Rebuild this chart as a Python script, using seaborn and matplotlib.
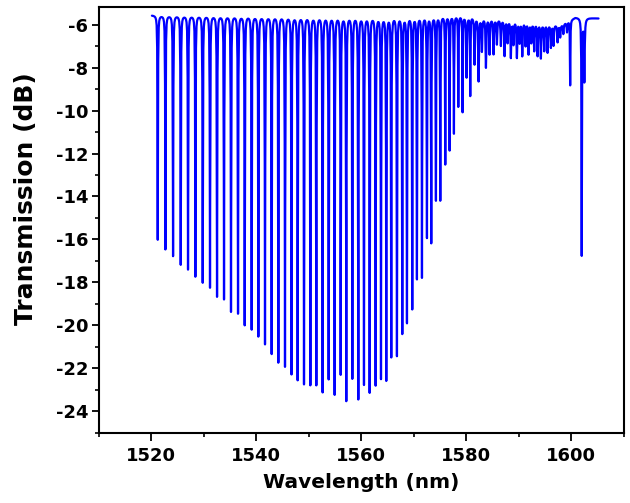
import numpy as np
import pandas as pd
import matplotlib
matplotlib.use("Agg")
import matplotlib.pyplot as plt
from matplotlib.ticker import MultipleLocator
import seaborn as sns

# Resonance dip positions (nm) and dip minima (dB)
dip_wl = [1521.21, 1522.67, 1524.13, 1525.59, 1526.98, 1528.38, 1529.78, 1531.17,
          1532.51, 1533.84, 1535.17, 1536.51, 1537.78, 1539.11, 1540.38, 1541.65,
          1542.92, 1544.19, 1545.46, 1546.70, 1547.87, 1549.08, 1550.29, 1551.43,
          1552.63, 1553.78, 1554.92, 1556.07, 1557.14, 1558.29, 1559.43, 1560.51,
          1561.59, 1562.73, 1563.75, 1564.76, 1565.71, 1566.79, 1567.81, 1568.70,
          1569.71, 1570.60, 1571.56, 1572.51, 1573.33, 1574.22, 1575.05, 1576.00,
          1576.83, 1577.65, 1578.48, 1579.30, 1580.06, 1580.76, 1581.58, 1582.35,
          1582.98, 1583.75, 1584.44, 1585.20, 1585.84, 1586.60, 1587.30, 1587.87,
          1588.50, 1589.00, 1589.65, 1590.16, 1590.67, 1591.30, 1591.87, 1592.38,
          1592.95, 1593.59, 1594.22, 1594.86, 1595.49, 1596.13, 1596.63, 1597.40,
          1597.90, 1598.50, 1599.20, 1599.80, 1602.00, 1602.50]
dip_min_db = [-16.00, -16.44, -16.75, -17.15, -17.37, -17.70, -17.98, -18.21,
              -18.63, -18.75, -19.33, -19.41, -19.95, -20.15, -20.47, -20.83,
              -21.28, -21.68, -21.87, -22.22, -22.49, -22.68, -22.72, -22.72,
              -23.05, -22.44, -23.16, -22.22, -23.45, -22.41, -23.37, -22.69,
              -23.06, -22.72, -22.41, -22.49, -21.40, -21.35, -20.31, -19.81,
              -19.17, -17.77, -17.71, -15.85, -16.10, -14.12, -14.13, -12.45,
              -11.80, -11.02, -9.77, -10.01, -8.41, -9.24, -7.79, -8.57,
              -7.17, -7.94, -7.32, -7.32, -6.86, -6.93, -7.40, -6.78,
              -7.48, -6.86, -7.48, -6.78, -7.40, -6.93, -7.32, -6.78,
              -7.17, -7.40, -7.51, -7.17, -7.25, -7.02, -6.93, -6.78,
              -6.55, -6.40, -6.32, -8.80, -16.69, -8.60]
# Upper envelope (between notches)
env_wl = [1520.1, 1580.0, 1586.0, 1592.0, 1598.0, 1600.8, 1605.2]
env_db = [-5.55, -5.55, -5.70, -5.85, -6.00, -5.65, -5.70]
wl_start, wl_end = 1520.1, 1605.2

x_label = "Wavelength (nm)"
y_label = "Transmission (dB)"
x_ticks = [1520, 1540, 1560, 1580, 1600]
y_ticks = [-6, -8, -10, -12, -14, -16, -18, -20, -22, -24]

# Build the trace on a measurement-like grid: Lorentzian notches at the read positions
wl = np.union1d(np.arange(wl_start, wl_end, 0.1), np.array(dip_wl))
base = np.interp(wl, env_wl, env_db)
db = base.copy()
for c, m in zip(dip_wl, dip_min_db):
    depth = np.interp(c, env_wl, env_db) - m
    g = 0.045 if depth > 3 else 0.08
    db -= depth / (1.0 + ((wl - c) / g) ** 2)
df = pd.DataFrame({"wl": wl, "db": db})

sns.set_style("white")
plt.rcParams["font.family"] = ["DejaVu Sans"]
plt.rcParams["font.weight"] = "bold"
plt.rcParams["axes.unicode_minus"] = False
for k in ["text.color", "axes.labelcolor", "xtick.color", "ytick.color"]:
    plt.rcParams[k] = "black"

fig = plt.figure(figsize=(6.3, 5.03), dpi=100)
ax = fig.add_axes([0.157, 0.140, 0.833, 0.847])
sns.lineplot(data=df, x="wl", y="db", ax=ax, color="#0000ff", linewidth=1.6,
             estimator=None, sort=False)

ax.set_xlim(1510, 1610)
ax.set_ylim(-25, -5.15)
ax.set_xticks(x_ticks)
ax.set_yticks(y_ticks)
ax.xaxis.set_minor_locator(MultipleLocator(10))
ax.yaxis.set_minor_locator(MultipleLocator(1))
ax.tick_params(axis="x", which="major", direction="out", length=5.5, width=1.3,
               colors="black", labelsize=13, pad=5)
ax.tick_params(axis="y", which="major", direction="out", length=5, width=1.3,
               colors="black", labelsize=13, pad=2.7)
ax.tick_params(which="minor", direction="out", length=3, width=1.2, colors="black")
ax.tick_params(which="both", bottom=True, left=True, top=False, right=False)
for lab in ax.get_xticklabels() + ax.get_yticklabels():
    lab.set_fontweight("bold")
    lab.set_color("black")
for s in ax.spines.values():
    s.set_visible(True)
    s.set_color("black")
    s.set_linewidth(1.5)
ax.set_xlabel(x_label, fontsize=14.5, fontweight="bold", color="black")
ax.set_ylabel(y_label, fontsize=18, fontweight="bold", color="black")
ax.xaxis.set_label_coords(0.5, -0.116)
ax.yaxis.set_label_coords(-0.139, 0.55)
ax.xaxis.label.set_va("center")
ax.yaxis.label.set_va("center")
ax.grid(False)
fig.savefig("out.png", dpi=100)
